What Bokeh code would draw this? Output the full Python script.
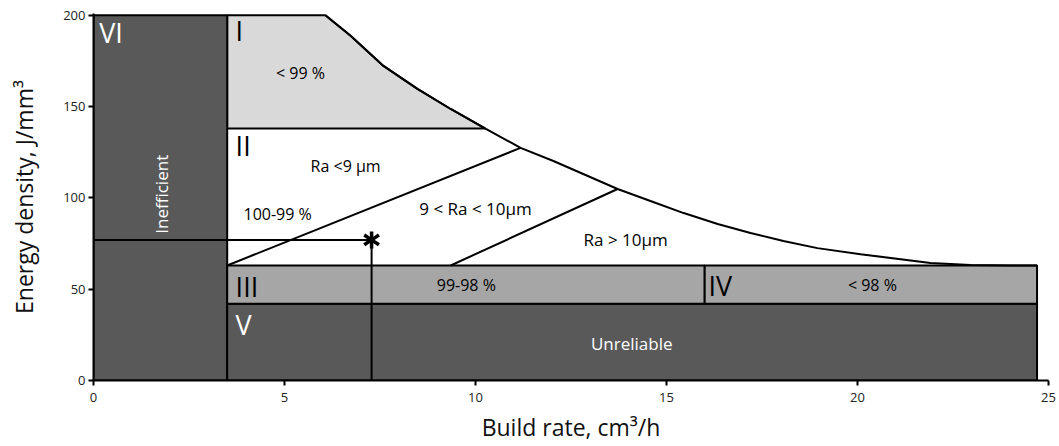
import math
from bokeh.plotting import figure
from bokeh.models import Range1d, FixedTicker, Label
from bokeh.embed import file_html
from bokeh.resources import INLINE

# ---------------- data ----------------
x_ticks = [0, 5, 10, 15, 20, 25]
y_ticks = [0, 50, 100, 150, 200]

# upper boundary curve of the process window (build rate, energy density)
curve_x = [6.07, 6.73, 7.59, 8.48, 9.35, 10.26, 11.18, 12.04, 13.72, 14.58, 15.45,
           16.34, 17.20, 18.06, 18.95, 20.08, 21.91, 22.96, 24.0, 24.7]
curve_y = [200, 188.8, 172.3, 159.7, 148.7, 138, 127.4, 120.2, 104.9, 98.3, 91.7,
           85.7, 80.8, 76.4, 72.5, 69.2, 64.3, 63.2, 63, 63]
zone_I_end = 6  # curve points that bound zone I (down to 138)

# rectangular zones: VI, V, III, IV
zone_name = ["VI", "V", "III", "IV"]
zone_left = [0, 3.5, 3.5, 16]
zone_right = [3.5, 24.7, 16, 24.7]
zone_bottom = [0, 0, 42, 42]
zone_top = [200, 42, 63, 63]
zone_color = ["#595959", "#595959", "#a6a6a6", "#a6a6a6"]

# zone I (polygon left edge / bottom / top level)
zone_I_left = 3.5
zone_I_bottom = 138
zone_I_top = 200

# roughness boundaries (lines)
ra9_x = [3.5, 11.18]
ra9_y = [63, 127.4]
ra10_x = [9.35, 13.72]
ra10_y = [63, 104.9]

# selected operating point (*)
star_x = [7.28]
star_y = [77]

# ---------------- figure ----------------
FONT = "Open Sans"
p = figure(width=1059, height=446, output_backend="svg", toolbar_location=None,
           x_range=Range1d(0, 25), y_range=Range1d(0, 201),
           min_border_left=93, min_border_right=11, min_border_top=13, min_border_bottom=66)
p.outline_line_color = None
p.grid.visible = False
p.background_fill_color = "white"

# zone I polygon
zI_x = [zone_I_left, zone_I_left] + curve_x[:zone_I_end]
zI_y = [zone_I_bottom, zone_I_top] + curve_y[:zone_I_end]
p.patch(zI_x, zI_y, fill_color="#d9d9d9", line_color="black", line_width=2)

# rectangles
p.quad(left=zone_left, right=zone_right, bottom=zone_bottom, top=zone_top,
       fill_color=zone_color, line_color="black", line_width=2)

# boundary curve
p.line(curve_x, curve_y, line_color="black", line_width=2)

# Ra lines
p.line(ra9_x, ra9_y, line_color="black", line_width=2)
p.line(ra10_x, ra10_y, line_color="black", line_width=2)

# operating point guide lines
p.line([0, star_x[0]], [star_y[0], star_y[0]], line_color="black", line_width=2)
p.line([star_x[0], star_x[0]], [0, star_y[0]], line_color="black", line_width=2)
p.scatter(star_x, star_y, marker="y", size=17, line_color="black", line_width=3.5)
p.scatter(star_x, star_y, marker="y", size=17, angle=math.pi, line_color="black", line_width=3.5)

# ---------------- labels ----------------
def lab(x, y, text, size, color="black", align="left", angle=0.0):
    p.add_layout(Label(x=x, y=y, text=text, text_font=FONT, text_font_size=f"{size}px",
                       text_color=color, text_align=align, text_baseline="middle",
                       angle=angle))

lab(0.15, 190.5, "VI", 27, "white")
lab(3.72, 191.5, "I", 27)
lab(5.42, 168.5, "< 99 %", 16, align="center")
lab(3.72, 128.5, "II", 27)
lab(6.6, 117.5, "Ra <9 µm", 16, align="center")
lab(4.82, 91.2, "100-99 %", 16, align="center")
lab(10.0, 94.4, "9 < Ra < 10µm", 17, align="center")
lab(13.93, 77.4, "Ra > 10µm", 17, align="center")
lab(3.72, 51.5, "III", 27)
lab(9.76, 52.2, "99-98 %", 16, align="center")
lab(16.1, 52, "IV", 27)
lab(20.39, 52.2, "< 98 %", 16, align="center")
lab(3.72, 30.5, "V", 27, "white")
lab(14.09, 20.4, "Unreliable", 17, "white", align="center")
lab(1.78, 102, "Inefficient", 17, "white", align="center", angle=math.pi / 2)

# ---------------- axes ----------------
p.xaxis.ticker = FixedTicker(ticks=x_ticks)
p.yaxis.ticker = FixedTicker(ticks=y_ticks)
for ax in (p.xaxis[0], p.yaxis[0]):
    ax.axis_line_color = "black"
    ax.axis_line_width = 2
    ax.major_tick_line_color = "black"
    ax.major_tick_line_width = 2
    ax.major_tick_out = 5
    ax.major_tick_in = 0
    ax.minor_tick_line_color = None
    ax.major_label_text_font = FONT
    ax.major_label_text_font_size = "13px"
    ax.major_label_text_color = "#222222"
    ax.axis_label_text_font = FONT
    ax.axis_label_text_font_size = "23px"
    ax.axis_label_text_font_style = "normal"
    ax.axis_label_text_color = "#111111"
p.xaxis.axis_label = "Build rate, cm³/h"
p.yaxis.axis_label = "Energy density, J/mm³"
p.xaxis.major_label_standoff = 7
p.xaxis.axis_label_standoff = 6
p.yaxis.major_label_standoff = 3
p.yaxis.axis_label_standoff = 20

open("out.html", "w").write(file_html(p, INLINE))
